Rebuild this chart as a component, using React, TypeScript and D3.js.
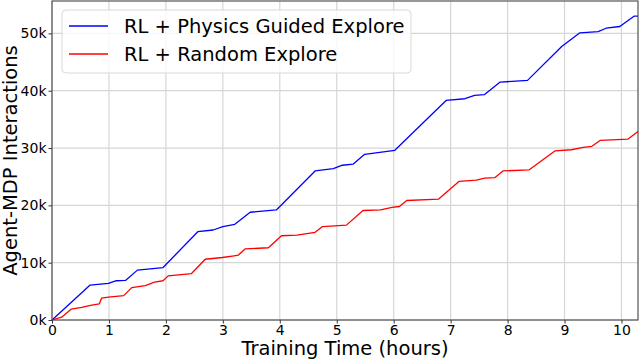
import React, { useEffect, useRef } from 'react';
import * as d3 from 'd3';

// hours / thousands of interactions
const guidedHours = [0, 0.67, 0.99, 1.13, 1.29, 1.5, 1.95, 2.56, 2.83, 3.0, 3.21, 3.48, 3.94, 4.62, 4.94, 5.1, 5.29, 5.49, 6.02, 6.92, 7.25, 7.42, 7.59, 7.87, 8.35, 8.95, 9.27, 9.59, 9.73, 9.97, 10.22, 10.29];
const guidedValues = [0, 6.1, 6.4, 6.85, 6.9, 8.7, 9.15, 15.4, 15.7, 16.3, 16.7, 18.8, 19.2, 26.0, 26.4, 27.0, 27.2, 28.9, 29.6, 38.3, 38.6, 39.2, 39.3, 41.5, 41.8, 47.7, 50.1, 50.3, 50.9, 51.2, 53.0, 53.0];

const randomHours = [0, 0.17, 0.34, 0.52, 0.7, 0.83, 0.87, 0.99, 1.26, 1.4, 1.64, 1.8, 1.95, 2.04, 2.45, 2.69, 2.99, 3.2, 3.27, 3.39, 3.8, 4.03, 4.3, 4.62, 4.75, 5.17, 5.46, 5.77, 5.97, 6.1, 6.23, 6.79, 7.15, 7.45, 7.6, 7.78, 7.92, 8.38, 8.83, 9.12, 9.33, 9.48, 9.63, 10.11, 10.29];
const randomValues = [0, 0.5, 1.9, 2.2, 2.6, 2.8, 3.8, 4.0, 4.25, 5.65, 6.0, 6.6, 6.85, 7.7, 8.1, 10.6, 10.9, 11.2, 11.3, 12.4, 12.6, 14.7, 14.8, 15.3, 16.3, 16.55, 19.1, 19.2, 19.65, 19.8, 20.85, 21.1, 24.2, 24.4, 24.75, 24.85, 26.0, 26.2, 29.5, 29.7, 30.1, 30.3, 31.35, 31.55, 32.9];

const seriesNames = ['RL + Physics Guided Explore', 'RL + Random Explore'];
const seriesColors = ['#0000ff', '#ff0000'];
const xTicks = [0, 1, 2, 3, 4, 5, 6, 7, 8, 9, 10];
const yTicks = [0, 10, 20, 30, 40, 50];

const App = () => {
  const svgRef = useRef<SVGSVGElement>(null);

  useEffect(() => {
    const svg = d3.select(svgRef.current);
    svg.selectAll('*').remove();

    const width = 640, height = 360;
    const margin = { top: 1, right: 2, bottom: 40, left: 52 };
    const font = 'DejaVu Sans, sans-serif';

    const series = [
      guidedHours.map((h, i) => [h, guidedValues[i]]),
      randomHours.map((h, i) => [h, randomValues[i]]),
    ];

    const xMax = d3.max(guidedHours.concat(randomHours)) as number;
    const yMax = (d3.max(guidedValues.concat(randomValues)) as number) * 1.05;

    const x = d3.scaleLinear().domain([0, xMax]).range([margin.left, width - margin.right]);
    const y = d3.scaleLinear().domain([0, yMax]).range([height - margin.bottom, margin.top]);

    // grid
    const grid = svg.append('g').attr('stroke', '#d6d6d6').attr('stroke-width', 1.2);
    grid.selectAll('.gx').data(xTicks).enter().append('line')
      .attr('x1', d => x(d)).attr('x2', d => x(d))
      .attr('y1', margin.top).attr('y2', height - margin.bottom);
    grid.selectAll('.gy').data(yTicks).enter().append('line')
      .attr('x1', margin.left).attr('x2', width - margin.right)
      .attr('y1', d => y(d)).attr('y2', d => y(d));

    // lines
    const line = d3.line<number[]>().x(d => x(d[0])).y(d => y(d[1]));
    svg.append('g').selectAll('path').data(series).enter().append('path')
      .attr('d', d => line(d))
      .attr('fill', 'none')
      .attr('stroke', (d, i) => seriesColors[i])
      .attr('stroke-width', 1.3)
      .attr('stroke-linejoin', 'round');

    // axes
    const xAxis = svg.append('g')
      .attr('transform', `translate(0,${height - margin.bottom})`)
      .call(d3.axisBottom(x).tickValues(xTicks).tickSize(3.5).tickPadding(1.5).tickFormat(d3.format('d')));
    const yAxis = svg.append('g')
      .attr('transform', `translate(${margin.left},0)`)
      .call(d3.axisLeft(y).tickValues(yTicks).tickSize(3.5).tickPadding(2).tickFormat(d => d + 'k'));
    [xAxis, yAxis].forEach(a => {
      a.select('.domain').remove();
      a.selectAll('line').attr('stroke', '#333');
      a.selectAll('text').attr('font-family', font).attr('font-size', 14).attr('fill', '#000');
    });

    // frame
    svg.append('rect')
      .attr('x', margin.left).attr('y', margin.top)
      .attr('width', width - margin.right - margin.left)
      .attr('height', height - margin.bottom - margin.top)
      .attr('fill', 'none').attr('stroke', '#444').attr('stroke-width', 1.1);

    // axis labels
    svg.append('text')
      .attr('x', (margin.left + width - margin.right) / 2)
      .attr('y', 355)
      .attr('text-anchor', 'middle')
      .attr('font-family', font).attr('font-size', 19.5)
      .text('Training Time (hours)');
    svg.append('text')
      .attr('transform', `translate(17,${(margin.top + height - margin.bottom) / 2}) rotate(-90)`)
      .attr('text-anchor', 'middle')
      .attr('font-family', font).attr('font-size', 19.5)
      .text('Agent-MDP Interactions');

    // legend
    const legend = svg.append('g');
    legend.append('rect')
      .attr('x', 62).attr('y', 10).attr('width', 349).attr('height', 63)
      .attr('rx', 4)
      .attr('fill', 'rgba(255,255,255,0.8)').attr('stroke', '#d9d9d9');
    seriesNames.forEach((name, i) => {
      const yy = 26 + i * 28;
      legend.append('line')
        .attr('x1', 69).attr('x2', 108).attr('y1', yy).attr('y2', yy)
        .attr('stroke', seriesColors[i]).attr('stroke-width', 1.3);
      legend.append('text')
        .attr('x', 124).attr('y', yy + 7)
        .attr('font-family', font).attr('font-size', 19.5)
        .text(name);
    });
  }, []);

  return (
    <svg ref={svgRef} width={640} height={360}
      style={{ position: 'absolute', left: 0, top: 0, background: '#fff' }} />
  );
};

export default App;
